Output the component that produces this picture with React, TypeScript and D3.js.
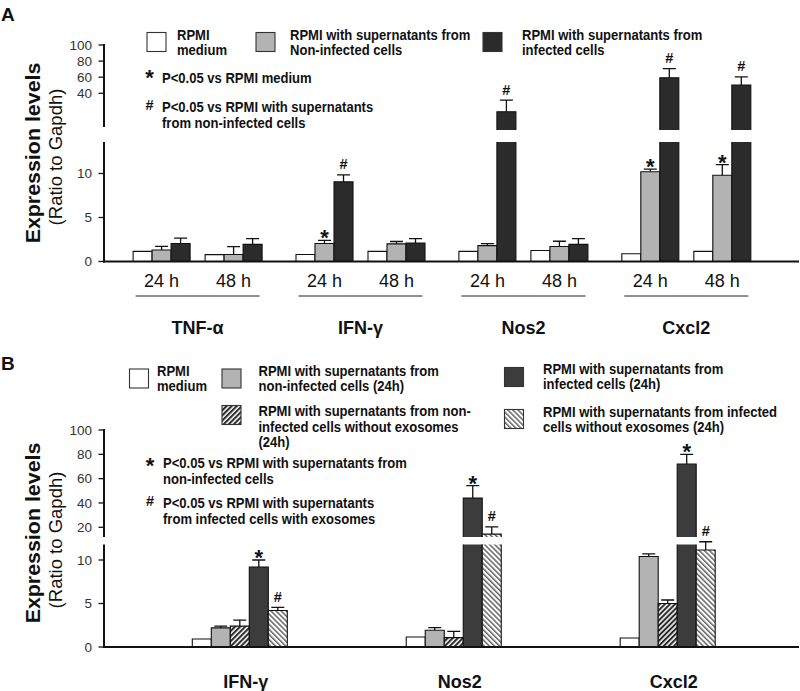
import React from "react";
import * as d3 from "d3";

// ---------- Panel A data ----------
const genesA = ["TNF-α", "IFN-γ", "Nos2", "Cxcl2"];
const timesA = ["24 h", "48 h"];
const seriesA = ["rpmi", "nonInf", "inf"];
// values ordered gene x time: TNF24, TNF48, IFN24, IFN48, Nos24, Nos48, Cx24, Cx48
const rpmiA = [1.15, 0.78, 0.8, 1.15, 1.15, 1.25, 0.88, 1.15];
const rpmiErrA = [0, 0, 0, 0, 0, 0, 0, 0];
const nonInfA = [1.3, 0.8, 2.05, 2.0, 1.8, 1.7, 10.2, 9.8];
const nonInfErrA = [0.42, 0.9, 0.35, 0.27, 0.22, 0.6, 0.3, 1.2];
const infA = [2.05, 1.95, 9.05, 2.1, 44, 1.95, 72, 66];
const infErrA = [0.6, 0.65, 0.8, 0.5, 9.5, 0.65, 7.5, 6.6];
const nonInfSigA = ["", "", "*", "", "", "", "*", "*"];
const infSigA = ["", "", "#", "", "#", "", "#", "#"];
const upperTicksA = [40, 60, 80, 100];
const lowerTicks = [0, 5, 10];

// ---------- Panel B data ----------
const genesB = ["IFN-γ", "Nos2", "Cxcl2"];
const seriesB = ["rpmi", "nonInf", "nonInfNoExo", "inf", "infNoExo"];
const rpmiB = [0.92, 1.15, 1.04];
const rpmiErrB = [0, 0, 0];
const nonInfB = [2.2, 1.92, 10.4];
const nonInfErrB = [0.2, 0.3, 0.3];
const nonInfNoExoB = [2.4, 1.08, 5.0];
const nonInfNoExoErrB = [0.7, 0.72, 0.4];
const infB = [9.2, 44, 72];
const infErrB = [0.8, 10.2, 8];
const infNoExoB = [4.2, 14.4, 11.15];
const infNoExoErrB = [0.35, 6, 0.95];
const infSigB = ["*", "*", "*"];
const infNoExoSigB = ["#", "#", "#"];
const upperTicksB = [20, 40, 60, 80, 100];

const FONT = "'Liberation Sans', Arial, Helvetica, sans-serif";

type TP = {
  x: number; y: number; children: React.ReactNode; size?: number; weight?: string;
  anchor?: string; sx?: number; fill?: string; rotate?: number;
};
const T = ({ x, y, children, size = 14.5, weight = "bold", anchor = "start", sx = 0.9, fill = "#111", rotate = 0 }: TP) => (
  <text
    transform={`translate(${x},${y})${rotate ? ` rotate(${rotate})` : ""} scale(${sx},1)`}
    fontSize={size}
    fontWeight={weight}
    textAnchor={anchor as any}
    fill={fill}
    fontFamily={FONT}
  >
    {children}
  </text>
);

type BarSpec = {
  key: string; cx: number; w: number; v: number; e: number; fill: string; sig: string;
};

function BrokenBars({ bars, yLow, yUp, lowTop, upBot }: {
  bars: BarSpec[]; yLow: d3.ScaleLinear<number, number>; yUp: d3.ScaleLinear<number, number>;
  lowTop: number; upBot: number;
}) {
  const lowMax = yLow.invert(lowTop);
  const upMin = yUp.invert(upBot);
  const y0 = yLow(0);
  return (
    <g>
      {bars.map((b) => {
        const x0 = b.cx - b.w / 2;
        const x1 = b.cx + b.w / 2;
        const parts: React.ReactNode[] = [];
        const lowV = Math.min(b.v, lowMax);
        const yt = yLow(lowV);
        const cutLow = b.v > lowMax;
        parts.push(<rect key="lf" x={x0} y={yt} width={b.w} height={y0 - yt} fill={b.fill} />);
        parts.push(
          <path key="ls" d={cutLow ? `M${x0},${y0}V${yt}M${x1},${yt}V${y0}` : `M${x0},${y0}V${yt}H${x1}V${y0}`}
            fill="none" stroke="#111" strokeWidth={1.1} />
        );
        let topY = yt;
        let errY = yLow(b.v + b.e);
        if (b.v > upMin) {
          const yu = yUp(b.v);
          parts.push(<rect key="uf" x={x0} y={yu} width={b.w} height={upBot - yu} fill={b.fill} />);
          parts.push(<path key="us" d={`M${x0},${upBot}V${yu}H${x1}V${upBot}`} fill="none" stroke="#111" strokeWidth={1.1} />);
          topY = yu;
          errY = yUp(b.v + b.e);
        }
        if (b.e > 0) {
          parts.push(
            <path key="e" d={`M${b.cx},${topY}V${errY}M${b.cx - 6.5},${errY}H${b.cx + 6.5}`} stroke="#111" strokeWidth={1.3} fill="none" />
          );
        }
        const markTop = b.e > 0 ? errY : topY;
        if (b.sig === "*") parts.push(<T key="s" x={b.cx} y={markTop + 5} size={22} anchor="middle" sx={1}>*</T>);
        if (b.sig === "#") parts.push(<T key="s" x={b.cx} y={markTop - 5.5} size={14.5} anchor="middle" sx={1}>#</T>);
        return <g key={b.key}>{parts}</g>;
      })}
    </g>
  );
}

function YAxis({ x, yTop, yBot, scale, ticks }: { x: number; yTop: number; yBot: number; scale: (v: number) => number; ticks: number[] }) {
  return (
    <g>
      <line x1={x} x2={x} y1={yTop} y2={yBot} stroke="#111" strokeWidth={2} />
      {ticks.map((t) => (
        <g key={t}>
          <line x1={x - 5.5} x2={x} y1={scale(t)} y2={scale(t)} stroke="#111" strokeWidth={1.3} />
          <T x={x - 12} y={scale(t) + 4.8} size={13.5} weight="normal" anchor="end" sx={1} fill="#333">{t}</T>
        </g>
      ))}
    </g>
  );
}

const GRAY = "#b3b3b3";
const DARK_A = "#2b2b2b";
const DARK_B = "#3c3c3c";

export default function App() {
  const AX = 104;
  const XEND = 799;

  // ----- Panel A scales -----
  const yLowA = d3.scaleLinear().domain([0, 10]).range([261.5, 173.5]);
  const yUpA = d3.scaleLinear().domain([44, 72]).range([111.7, 77.7]); // bar scale
  const yUpTickA = d3.scaleLinear().domain([40, 100]).range([93.3, 45]); // labelled ticks
  const lowTopA = 142, upBotA = 130;
  const xGeneA = d3.scalePoint<string>().domain(genesA).range([197.6, 686.3]);
  const xTimeA = d3.scalePoint<string>().domain(timesA).range([-36, 36]);
  const xSerA = d3.scaleBand<string>().domain(seriesA).range([-28.5, 28.5]);
  const fillsA: Record<string, string> = { rpmi: "#fff", nonInf: GRAY, inf: DARK_A };
  const valsA: Record<string, number[]> = { rpmi: rpmiA, nonInf: nonInfA, inf: infA };
  const errsA: Record<string, number[]> = { rpmi: rpmiErrA, nonInf: nonInfErrA, inf: infErrA };
  const sigsA: Record<string, string[]> = { rpmi: rpmiA.map(() => ""), nonInf: nonInfSigA, inf: infSigA };
  const barsA: BarSpec[] = [];
  genesA.forEach((g, gi) =>
    timesA.forEach((t, ti) => {
      const k = gi * timesA.length + ti;
      seriesA.forEach((s) => {
        barsA.push({
          key: `${g}-${t}-${s}`,
          cx: (xGeneA(g) as number) + (xTimeA(t) as number) + (xSerA(s) as number) + xSerA.bandwidth() / 2,
          w: xSerA.bandwidth(), v: valsA[s][k], e: errsA[s][k], fill: fillsA[s], sig: sigsA[s][k],
        });
      });
    })
  );

  // ----- Panel B scales -----
  const yLowB = d3.scaleLinear().domain([0, 10]).range([647, 560]);
  const yUpB = d3.scaleLinear().domain([20, 100]).range([527.3, 430]);
  const lowTopB = 544.5, upBotB = 537;
  const xGeneB = d3.scalePoint<string>().domain(genesB).range([239.8, 667.7]);
  const xSerB = d3.scaleBand<string>().domain(seriesB).range([-47.5, 47.5]);
  const fillsB: Record<string, string> = { rpmi: "#fff", nonInf: GRAY, nonInfNoExo: "url(#hatchDark)", inf: DARK_B, infNoExo: "url(#hatchLight)" };
  const valsB: Record<string, number[]> = { rpmi: rpmiB, nonInf: nonInfB, nonInfNoExo: nonInfNoExoB, inf: infB, infNoExo: infNoExoB };
  const errsB: Record<string, number[]> = { rpmi: rpmiErrB, nonInf: nonInfErrB, nonInfNoExo: nonInfNoExoErrB, inf: infErrB, infNoExo: infNoExoErrB };
  const sigsB: Record<string, string[]> = { rpmi: ["", "", ""], nonInf: ["", "", ""], nonInfNoExo: ["", "", ""], inf: infSigB, infNoExo: infNoExoSigB };
  const barsB: BarSpec[] = [];
  genesB.forEach((g, gi) =>
    seriesB.forEach((s) => {
      barsB.push({
        key: `${g}-${s}`,
        cx: (xGeneB(g) as number) + (xSerB(s) as number) + xSerB.bandwidth() / 2,
        w: xSerB.bandwidth(), v: valsB[s][gi], e: errsB[s][gi], fill: fillsB[s], sig: sigsB[s][gi],
      });
    })
  );

  const sq = 19;
  return (
    <svg width={800} height={691} style={{ position: "absolute", left: 0, top: 0, background: "#fff" }} fontFamily={FONT}>
      <defs>
        <pattern id="hatchDark" patternUnits="userSpaceOnUse" width={3.6} height={3.6} patternTransform="rotate(45)">
          <rect width={3.6} height={3.6} fill="#e8e8e8" />
          <line x1={0.9} y1={0} x2={0.9} y2={3.6} stroke="#2a2a2a" strokeWidth={2} />
        </pattern>
        <pattern id="hatchLight" patternUnits="userSpaceOnUse" width={3.6} height={3.6} patternTransform="rotate(-45)">
          <rect width={3.6} height={3.6} fill="#fff" />
          <line x1={0.8} y1={0} x2={0.8} y2={3.6} stroke="#2a2a2a" strokeWidth={1.1} />
        </pattern>
      </defs>
      <rect width={800} height={691} fill="#fff" />

      {/* ================= Panel A ================= */}
      <T x={1} y={21} size={19} sx={1}>A</T>
      <rect x={147} y={32.5} width={sq} height={sq} fill="#fff" stroke="#333" strokeWidth={1.1} />
      <T x={177} y={39.5}>RPMI</T>
      <T x={177} y={55}>medium</T>
      <rect x={256} y={32.5} width={sq} height={sq} fill={GRAY} stroke="#333" strokeWidth={1.1} />
      <T x={290} y={39.5}>RPMI with supernatants from</T>
      <T x={290} y={55}>Non-infected cells</T>
      <rect x={483} y={32.5} width={sq} height={sq} fill={DARK_A} stroke="#333" strokeWidth={1.1} />
      <T x={522} y={39.5}>RPMI with supernatants from</T>
      <T x={522} y={55}>infected cells</T>
      <T x={149.5} y={85} size={22} anchor="middle" sx={1}>*</T>
      <T x={162} y={83}>P&lt;0.05 vs RPMI medium</T>
      <T x={149.5} y={110} size={14.5} anchor="middle" sx={1}>#</T>
      <T x={162} y={112}>P&lt;0.05 vs RPMI with supernatants</T>
      <T x={162} y={128}>from non-infected cells</T>

      <T x={40} y={153} size={20} anchor="middle" sx={1.07} rotate={-90}>Expression levels</T>
      <T x={62} y={157} size={18.5} weight="normal" anchor="middle" sx={1} rotate={-90}>(Ratio to Gapdh)</T>

      <YAxis x={AX} yTop={44} yBot={127} scale={yUpTickA} ticks={upperTicksA} />
      <YAxis x={AX} yTop={lowTopA} yBot={262.5} scale={yLowA} ticks={lowerTicks} />
      <BrokenBars bars={barsA} yLow={yLowA} yUp={yUpA} lowTop={lowTopA} upBot={upBotA} />
      <line x1={AX - 1} x2={XEND} y1={yLowA(0)} y2={yLowA(0)} stroke="#111" strokeWidth={2} />
      {genesA.map((g) => (
        <g key={g}>
          {timesA.map((t) => (
            <T key={t} x={(xGeneA(g) as number) + (xTimeA(t) as number)} y={287} size={18} weight="normal" anchor="middle" sx={1}>{t}</T>
          ))}
          <line x1={(xGeneA(g) as number) - 62} x2={(xGeneA(g) as number) + 62} y1={296} y2={296} stroke="#222" strokeWidth={1} />
          <T x={xGeneA(g) as number} y={334} size={18} anchor="middle" sx={1}>{g}</T>
        </g>
      ))}

      {/* ================= Panel B ================= */}
      <T x={1} y={370} size={19} sx={1}>B</T>
      <rect x={129.5} y={369} width={sq} height={sq} fill="#fff" stroke="#333" strokeWidth={1.1} />
      <T x={157} y={376}>RPMI</T>
      <T x={157} y={391}>medium</T>
      <rect x={222} y={369} width={sq} height={sq} fill={GRAY} stroke="#333" strokeWidth={1.1} />
      <T x={258.5} y={376}>RPMI with supernatants from</T>
      <T x={258.5} y={391}>non-infected cells (24h)</T>
      <rect x={222} y={405.5} width={sq} height={sq} fill="url(#hatchDark)" stroke="#333" strokeWidth={1.1} />
      <T x={258.5} y={416}>RPMI with supernatants from non-</T>
      <T x={258.5} y={431.5}>infected cells without exosomes</T>
      <T x={258.5} y={447}>(24h)</T>
      <rect x={504.5} y={367.5} width={sq} height={sq} fill={DARK_B} stroke="#333" strokeWidth={1.1} />
      <T x={543} y={373.5}>RPMI with supernatants from</T>
      <T x={543} y={389}>infected cells (24h)</T>
      <rect x={504.5} y={409.5} width={sq} height={sq} fill="url(#hatchLight)" stroke="#333" strokeWidth={1.1} />
      <T x={543} y={417}>RPMI with supernatants from infected</T>
      <T x={543} y={432}>cells without exosomes (24h)</T>
      <T x={150} y={473} size={22} anchor="middle" sx={1}>*</T>
      <T x={163} y={468}>P&lt;0.05 vs RPMI with supernatants from</T>
      <T x={163} y={483.5}>non-infected cells</T>
      <T x={150} y={506} size={14.5} anchor="middle" sx={1}>#</T>
      <T x={163} y={508}>P&lt;0.05 vs RPMI with supernatants</T>
      <T x={163} y={524}>from infected cells with exosomes</T>

      <T x={40} y={533} size={20} anchor="middle" sx={1.07} rotate={-90}>Expression levels</T>
      <T x={62} y={540} size={18.5} weight="normal" anchor="middle" sx={1} rotate={-90}>(Ratio to Gapdh)</T>

      <YAxis x={AX} yTop={429} yBot={537} scale={yUpB} ticks={upperTicksB} />
      <YAxis x={AX} yTop={lowTopB} yBot={648} scale={yLowB} ticks={lowerTicks} />
      <BrokenBars bars={barsB} yLow={yLowB} yUp={yUpB} lowTop={lowTopB} upBot={upBotB} />
      <line x1={AX - 1} x2={XEND} y1={yLowB(0)} y2={yLowB(0)} stroke="#111" strokeWidth={2} />
      {genesB.map((g) => (
        <T key={g} x={(xGeneB(g) as number) + 6} y={688} size={18} anchor="middle" sx={1}>{g}</T>
      ))}
    </svg>
  );
}
